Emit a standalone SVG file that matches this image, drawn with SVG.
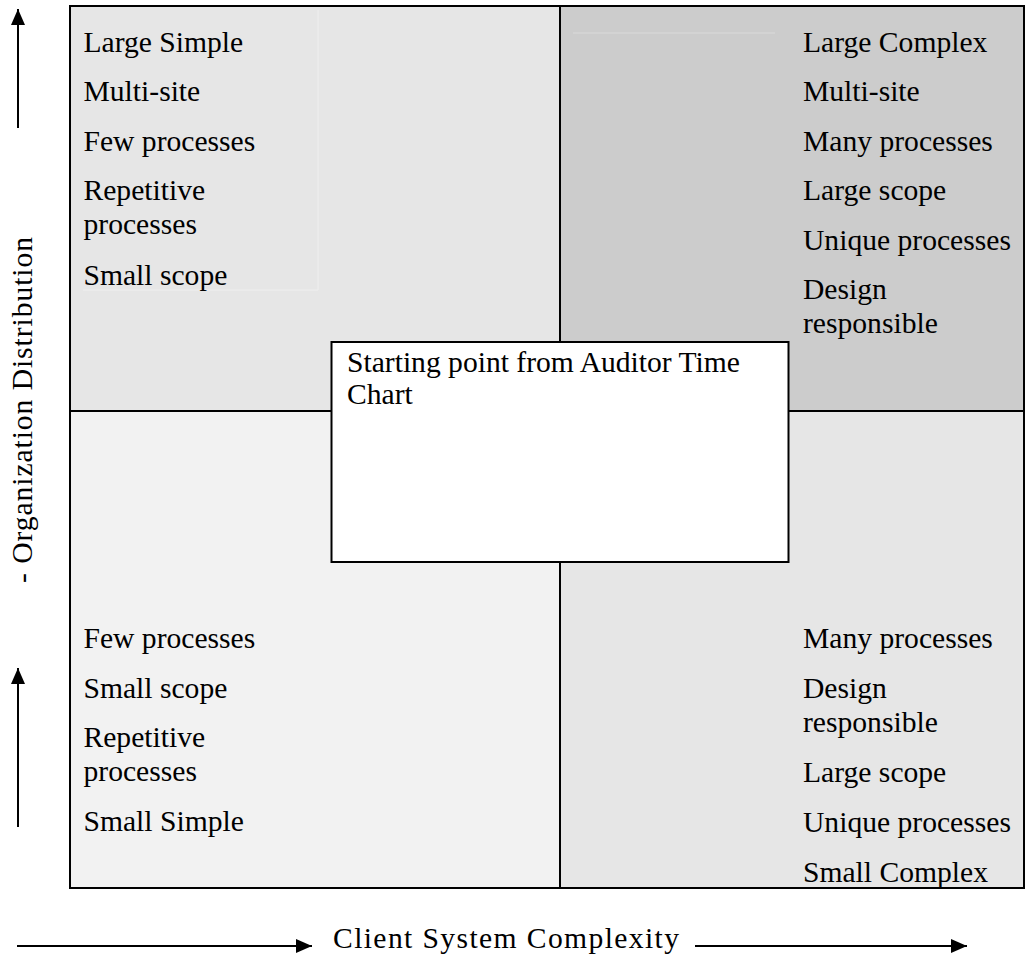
<svg xmlns="http://www.w3.org/2000/svg" width="1026" height="957" viewBox="0 0 1026 957">
<style>
text{font-family:"Liberation Serif","Times New Roman",serif;font-size:29.6px;fill:#000}
.frame{stroke:#000;stroke-width:2;fill:none}
.div{stroke:#000;stroke-width:2}
.faint{stroke-width:1;fill:none}
.arrow{stroke:#000;stroke-width:2;fill:none;marker-end:url(#ah)}
</style>
<defs>
<marker id="ah" viewBox="0 0 16 14" refX="16" refY="7" markerWidth="16" markerHeight="14" markerUnits="userSpaceOnUse" orient="auto">
<path d="M0,0 L16,7 L0,14 Z" fill="#000"/>
</marker>
</defs>
<rect width="1026" height="957" fill="#fff"/>

<g id="quad-tl">
<rect x="70" y="6" width="490" height="405" fill="#e6e6e6"/>
<path class="faint" stroke="#efefef" d="M83,290 H318 V10"/>
<text x="83.5" y="51.5">Large Simple</text>
<text x="83.5" y="101">Multi-site</text>
<text x="83.5" y="150.5">Few processes</text>
<text x="83.5" y="200">Repetitive</text>
<text x="83.5" y="234">processes</text>
<text x="83.5" y="284.5">Small scope</text>
</g>

<g id="quad-tr">
<rect x="560" y="6" width="464" height="405" fill="#cccccc"/>
<path class="faint" stroke="#dadada" d="M573,33 H775"/>
<text x="803" y="51.5">Large Complex</text>
<text x="803" y="101">Multi-site</text>
<text x="803" y="150.5">Many processes</text>
<text x="803" y="200">Large scope</text>
<text x="803" y="249.5">Unique processes</text>
<text x="803" y="299">Design</text>
<text x="803" y="333">responsible</text>
</g>

<g id="quad-bl">
<rect x="70" y="411" width="490" height="477" fill="#f2f2f2"/>
<text x="83.5" y="648">Few processes</text>
<text x="83.5" y="698">Small scope</text>
<text x="83.5" y="747">Repetitive</text>
<text x="83.5" y="781">processes</text>
<text x="83.5" y="831">Small Simple</text>
</g>

<g id="quad-br">
<rect x="560" y="411" width="464" height="477" fill="#e6e6e6"/>
<text x="803" y="648">Many processes</text>
<text x="803" y="698">Design</text>
<text x="803" y="732">responsible</text>
<text x="803" y="782">Large scope</text>
<text x="803" y="832">Unique processes</text>
<text x="803" y="882">Small Complex</text>
</g>

<g id="grid">
<line class="div" x1="560" y1="6" x2="560" y2="888"/>
<line class="div" x1="70" y1="411" x2="1024" y2="411"/>
<rect class="frame" x="70" y="6" width="954" height="882"/>
</g>

<g id="start-box">
<rect x="331.5" y="342" width="457" height="220" fill="#fff" stroke="#000" stroke-width="2"/>
<text x="347" y="372">Starting point from Auditor Time</text>
<text x="347" y="404">Chart</text>
</g>

<g id="axis-labels">
<text transform="translate(32,410) rotate(-90)" text-anchor="middle" textLength="346" lengthAdjust="spacing">- Organization Distribution</text>
<text x="333" y="948" textLength="346" lengthAdjust="spacing">Client System Complexity</text>
</g>

<g id="connectors">
<line class="arrow" x1="18" y1="128" x2="18" y2="9"/>
<line class="arrow" x1="18" y1="827" x2="18" y2="668"/>
<line class="arrow" x1="17" y1="946" x2="312" y2="946"/>
<line class="arrow" x1="695" y1="946" x2="967" y2="946"/>
</g>
</svg>
